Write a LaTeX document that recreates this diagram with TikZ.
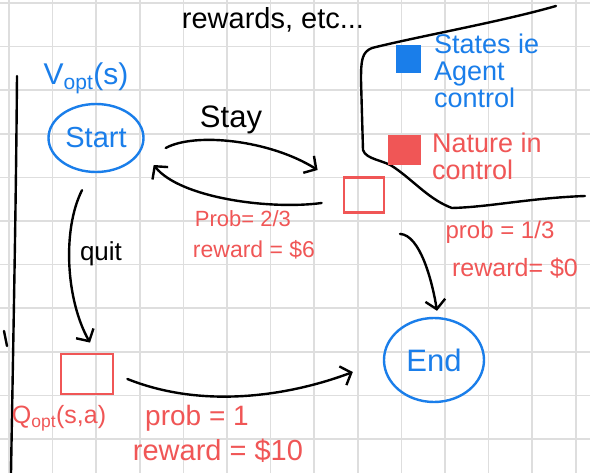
\documentclass[tikz,border=0pt]{standalone}
\usepackage{fontspec}
\setmainfont{Liberation Sans}
\usetikzlibrary{arrows.meta,shapes.geometric}
\definecolor{inkblue}{HTML}{1A7EEA}
\definecolor{inkred}{HTML}{F05656}
\definecolor{gridgray}{HTML}{DEDEDE}
\tikzset{
  ink/.style={line width=2.4pt,line cap=round,line join=round},
  arr/.style={ink,black,-{Straight Barb[length=9pt,width=20pt,line width=2.4pt]}},
  agent/.style={ellipse,draw=inkblue,ink,text=inkblue,inner sep=0pt},
  nature/.style={rectangle,draw=inkred,line width=2.8pt,inner sep=0pt},
  redtxt/.style={text=inkred,align=left,inner sep=0pt},
  bluetxt/.style={text=inkblue,align=left,inner sep=0pt},
  blacktxt/.style={text=black,inner sep=0pt}
}
\begin{document}
\begin{tikzpicture}[x=1pt,y=-1pt]
\useasboundingbox (0,0) rectangle (590,473);
\fill[white] (0,0) rectangle (590,473);
% grid
\foreach \i in {0,...,13} {\draw[gridgray,line width=1.5pt] ({9+43.6*\i},0) -- ({9+43.6*\i},473);}
\foreach \j in {0,...,10} {\draw[gridgray,line width=1.5pt] (0,{3+43.6*\j}) -- (590,{3+43.6*\j});}

% title
\node[blacktxt,font=\fontsize{29}{30}\selectfont] (title) at (273,20) {rewards, etc...};

% legend region boundary
\draw[ink,black] (556,6) .. controls (500,22) and (420,36) .. (372,48)
  .. controls (362,52) and (361,60) .. (361,80) -- (363,150)
  .. controls (366,160) and (385,160) .. (395,168)
  .. controls (415,182) and (430,200) .. (452,208)
  .. controls (490,207) and (530,198) .. (585,196);
\node[fill=inkblue,minimum width=25pt,minimum height=28pt,inner sep=0pt] (legA) at (408,59) {};
\node[bluetxt,anchor=north west,font=\fontsize{27}{27}\selectfont] (legAtxt) at (434,34) {States ie\\Agent\\control};
\node[fill=inkred,minimum width=33pt,minimum height=30pt,inner sep=0pt] (legN) at (404,150) {};
\node[redtxt,anchor=north west,font=\fontsize{27}{27}\selectfont] (legNtxt) at (432,133) {Nature in\\control};

% left margin line and tick
\draw[ink,black] (17,76) .. controls (16,200) and (14,300) .. (11,473);
\draw[ink,black] (4,331) -- (7,346);

% V_opt(s)
\node[bluetxt,font=\fontsize{30}{32}\selectfont] (vopt) at (86,78) {V$_{\mathrm{opt}}$(s)};

% nodes
\node[agent,minimum width=95pt,minimum height=68pt,font=\fontsize{29}{31}\selectfont] (start) at (96,138) {Start};
\node[nature,minimum width=40pt,minimum height=35pt] (chance) at (364,195) {};
\node[nature,minimum width=52pt,minimum height=40pt] (qsq) at (87,374) {};
\node[agent,minimum width=100pt,minimum height=84pt,font=\fontsize{31}{33}\selectfont] (endn) at (434,360) {End};

% connectors
\draw[arr] ([shift={(21,10)}]start.east) .. controls (195,132) and (270,140) .. ([shift={(-25,-25)}]chance.west);
\draw[arr] ([shift={(-21,8)}]chance.west) .. controls (270,210) and (180,198) .. ([shift={(9,27)}]start.east);
\draw[arr] ([shift={(36,20)}]chance.south) .. controls (420,235) and (432,280) .. ([shift={(3,-6)}]endn.north);
\draw[arr] ([shift={(-14,17)}]start.south) .. controls (62,230) and (66,300) .. ([shift={(3,-10)}]qsq.north);
\draw[arr] ([shift={(13,5)}]qsq.east) .. controls (210,412) and (300,392) .. ([shift={(-30,12)}]endn.west);

% labels
\node[blacktxt,font=\fontsize{31}{33}\selectfont] (stay) at (231,120) {Stay};
\node[blacktxt,font=\fontsize{26}{28}\selectfont] (quit) at (101,254) {quit};
\node[redtxt,font=\fontsize{22}{24}\selectfont] (p23) at (243,219) {Prob= 2/3};
\node[redtxt,font=\fontsize{23}{25}\selectfont] (r6) at (254,250) {reward = \$6};
\node[redtxt,font=\fontsize{24}{26}\selectfont] (p13) at (500,232) {prob = 1/3};
\node[redtxt,font=\fontsize{25}{27}\selectfont] (r0) at (515,268) {reward= \$0};
\node[redtxt,font=\fontsize{25}{27}\selectfont] (qopt) at (59,418) {Q$_{\mathrm{opt}}$(s,a)};
\node[redtxt,font=\fontsize{28}{30}\selectfont] (p1) at (197,418) {prob = 1};
\node[redtxt,font=\fontsize{29}{31}\selectfont] (r10) at (218,451) {reward = \$10};
\end{tikzpicture}
\end{document}
